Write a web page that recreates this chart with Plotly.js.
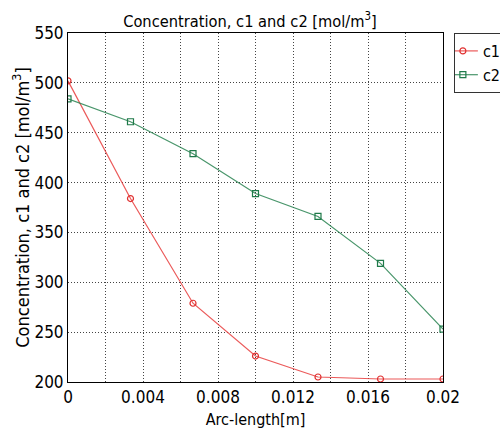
<!DOCTYPE html>
<html>
<head>
<meta charset="utf-8">
<script src="https://cdn.plot.ly/plotly-3.0.1.min.js"></script>
<style>html,body{margin:0;padding:0;background:#fff;}#chart{width:500px;height:434px;}</style>
</head>
<body>
<div id="chart"></div>
<script>
var arcLength = [0, 0.003333, 0.006667, 0.01, 0.013333, 0.016667, 0.02];
var c1 = [502, 384, 279, 226, 205, 203, 203];
var c2 = [484, 461, 429, 389, 366, 319, 253];
var seriesNames = ['c1', 'c2'];

var FONT = 'DejaVu Sans Condensed, DejaVu Sans, sans-serif';

var traces = [
  {
    x: arcLength, y: c1, name: seriesNames[0], type: 'scatter', mode: 'lines+markers',
    line: {color: 'rgba(232,60,60,0.85)', width: 1.2},
    marker: {symbol: 'circle-open', size: 6, color: '#e03030', line: {width: 1.2}}
  },
  {
    x: arcLength, y: c2, name: seriesNames[1], type: 'scatter', mode: 'lines+markers',
    line: {color: 'rgba(40,130,80,0.85)', width: 1.2},
    marker: {symbol: 'square-open', size: 6, color: '#1f7a4a', line: {width: 1.2}}
  }
];

var layout = {
  width: 500, height: 434,
  margin: {l: 68, r: 57, t: 33, b: 52, autoexpand: false},
  paper_bgcolor: '#fff', plot_bgcolor: '#fff',
  font: {family: FONT, color: '#000', size: 14},
  title: {text: 'Concentration, c1 and c2 [mol/m<sup>3</sup>]', font: {family: FONT, size: 16.3, color: '#000'},
          x: 0.5, xanchor: 'center', y: 0.937, yanchor: 'bottom'},
  showlegend: true,
  legend: {x: 1.029, y: 1, xanchor: 'left', yanchor: 'top', bordercolor: '#333', borderwidth: 1,
           bgcolor: '#fff', font: {family: FONT, size: 16, color: '#000'}, tracegroupgap: 0,
           itemwidth: 30, indentation: -12},
  xaxis: {
    range: [0, 0.02], dtick: 0.004, tick0: 0, ticks: '', showline: true, mirror: true,
    linecolor: '#000', linewidth: 1, zeroline: false,
    showgrid: true, gridcolor: '#444', griddash: '1px,2px', gridwidth: 1,
    minor: {dtick: 0.002, showgrid: true, gridcolor: '#444', griddash: '1px,2px', gridwidth: 1},
    tickfont: {family: FONT, size: 17, color: '#000'},
    title: {text: 'Arc-length[m]', font: {family: FONT, size: 16, color: '#000'}, standoff: 7}
  },
  yaxis: {
    range: [200, 550], dtick: 50, tick0: 200, ticks: '', showline: true, mirror: true,
    linecolor: '#000', linewidth: 1, zeroline: false,
    showgrid: true, gridcolor: '#444', griddash: '1px,2px', gridwidth: 1,
    tickfont: {family: FONT, size: 17, color: '#000'},
    title: {text: 'Concentration, c1 and c2 [mol/m<sup>3</sup>]', font: {family: FONT, size: 18, color: '#000'}, standoff: 0}
  }
};

Plotly.newPlot('chart', traces, layout, {staticPlot: true, displayModeBar: false});
</script>
</body>
</html>
